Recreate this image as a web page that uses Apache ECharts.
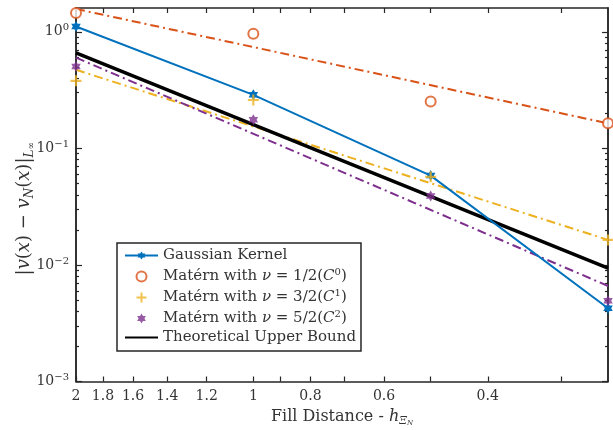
<!DOCTYPE html>
<html><head><meta charset="utf-8">
<script src="https://cdn.jsdelivr.net/npm/echarts@6/dist/echarts.min.js"></script>
<style>html,body{margin:0;padding:0;background:#fff}#c{width:613px;height:430px}</style>
</head><body><div id="c"></div><script>
// ---- data ----
const hValues = [2, 1, 0.5, 0.25];
const gaussian = [1.11, 0.288, 0.0584, 0.00425];
const matern12 = [1.45, 0.96, 0.252, 0.164];
const matern32 = [0.38, 0.26, 0.057, 0.0164];
const matern52 = [0.504, 0.176, 0.039, 0.00494];
const fitH = [2, 0.25];
const fit12 = [1.57, 0.164];
const fit32 = [0.472, 0.0164];
const fit52 = [0.60, 0.0066];
const upperBound = [0.66, 0.0094];
const xTickValues = [2, 1.8, 1.6, 1.4, 1.2, 1, 0.9, 0.8, 0.7, 0.6, 0.5, 0.4, 0.3];
const xLabelValues = [2, 1.8, 1.6, 1.4, 1.2, 1, 0.8, 0.6, 0.4];
const yMajorValues = [0.001, 0.01, 0.1, 1];
const yMinorValues = [0.002, 0.003, 0.004, 0.005, 0.006, 0.007, 0.008, 0.009,
  0.02, 0.03, 0.04, 0.05, 0.06, 0.07, 0.08, 0.09,
  0.2, 0.3, 0.4, 0.5, 0.6, 0.7, 0.8, 0.9];

const BLUE = '#0072BD', ORANGE = '#D95319', YELLOW = '#EDB120', PURPLE = '#7E2F8E';
const AX = '#262626';
const TX = '#333333';
const FONT = 'DejaVu Serif';
const hexagram = 'path://M0,-10 L2.9,-5 L8.66,-5 L5.8,0 L8.66,5 L2.9,5 L0,10 L-2.9,5 L-8.66,5 L-5.8,0 L-8.66,-5 L-2.9,-5 Z';
const plus = 'path://M-1,-5 L1,-5 L1,-1 L5,-1 L5,1 L1,1 L1,5 L-1,5 L-1,1 L-5,1 L-5,-1 L-1,-1 Z';
const dashDot = [9, 4, 2, 4];

function pairs(xs, ys) { return xs.map((x, i) => [x, ys[i]]); }

const richLegend = {
  t: { fontFamily: FONT, fontSize: 15, color: TX, lineHeight: 19 },
  i: { fontFamily: FONT, fontSize: 15, fontStyle: 'italic', color: TX, lineHeight: 19 },
  s: { fontFamily: FONT, fontSize: 10, color: TX, lineHeight: 11, verticalAlign: 'top' }
};
const richX = {
  t: { fontFamily: FONT, fontSize: 16, color: TX, lineHeight: 20 },
  i: { fontFamily: FONT, fontSize: 16, fontStyle: 'italic', color: TX, lineHeight: 20 },
  sub: { fontFamily: FONT, fontSize: 11, fontStyle: 'italic', color: TX, lineHeight: 9, verticalAlign: 'bottom' },
  subsub: { fontFamily: FONT, fontSize: 7, fontStyle: 'italic', color: TX, lineHeight: 5, verticalAlign: 'bottom' }
};
const richY = {
  t: { fontFamily: FONT, fontSize: 18, color: TX, lineHeight: 23 },
  i: { fontFamily: FONT, fontSize: 18, fontStyle: 'italic', color: TX, lineHeight: 23 },
  sub: { fontFamily: FONT, fontSize: 12, fontStyle: 'italic', color: TX, lineHeight: 9, verticalAlign: 'bottom' },
  subsub: { fontFamily: FONT, fontSize: 9, fontStyle: 'italic', color: TX, lineHeight: 14, verticalAlign: 'bottom' }
};

const legendNames = {
  'Gaussian Kernel': '{t|Gaussian Kernel}',
  'm12': '{t|Matérn with }{i|ν}{t| = 1/2(}{i|C}{s|0}{t|)}',
  'm32': '{t|Matérn with }{i|ν}{t| = 3/2(}{i|C}{s|1}{t|)}',
  'm52': '{t|Matérn with }{i|ν}{t| = 5/2(}{i|C}{s|2}{t|)}',
  'Theoretical Upper Bound': '{t|Theoretical Upper Bound}'
};

function yLab(v) {
  const e = Math.round(Math.log10(v));
  return '{b|10}{e|' + (e < 0 ? '\u2212' + (-e) : String(e)) + '}';
}

const yCommon = {
  type: 'log', min: 0.001, max: 1.6, logBase: 10,
  splitLine: { show: false }, minorTick: { show: false },
  axisLine: { show: true, lineStyle: { color: AX, width: 1.5 } }
};

const chart = echarts.init(document.getElementById('c'), null, { renderer: 'canvas' });
chart.setOption({
  animation: false,
  backgroundColor: '#fff',
  grid: { left: 76, right: 5, top: 8, bottom: 48.5, containLabel: false, outerBoundsMode: 'none' },
  xAxis: [
    {
      type: 'log', min: 0.25, max: 2, inverse: true, position: 'bottom',
      splitLine: { show: false },
      axisLine: { show: true, lineStyle: { color: AX, width: 1.5 } },
      axisTick: { show: true, inside: true, length: 5, lineStyle: { color: AX, width: 1.2 }, customValues: xTickValues },
      axisLabel: { show: true, customValues: xLabelValues, margin: 8, fontFamily: FONT, fontSize: 14, color: TX,
        formatter: v => String(v) },
      name: '{t|Fill Distance - }{i|h}{sub|Ξ}{subsub|N}',
      nameLocation: 'middle', nameGap: 22,
      nameTextStyle: { rich: richX }
    },
    {
      type: 'log', min: 0.25, max: 2, inverse: true, position: 'top',
      splitLine: { show: false },
      axisLine: { show: true, lineStyle: { color: AX, width: 1.5 } },
      axisTick: { show: true, inside: true, length: 5, lineStyle: { color: AX, width: 1.2 }, customValues: xTickValues },
      axisLabel: { show: false }
    }
  ],
  yAxis: [
    Object.assign({}, yCommon, {
      position: 'left',
      axisTick: { show: true, inside: true, length: 6, lineStyle: { color: AX, width: 1.2 }, customValues: yMajorValues },
      axisLabel: { show: true, customValues: yMajorValues, margin: 7, formatter: yLab,
        rich: {
          b: { fontFamily: FONT, fontSize: 14, color: TX, lineHeight: 18 },
          e: { fontFamily: FONT, fontSize: 10, color: TX, lineHeight: 10, verticalAlign: 'top' }
        } },
      name: '{t||}{i|v}{t|(}{i|x}{t|) \u2212 }{i|v}{sub|N}{t|(}{i|x}{t|)|}{sub|L}{subsub|∞}',
      nameLocation: 'middle', nameGap: 40, nameRotate: 90, nameMoveOverlap: false,
      nameTextStyle: { rich: richY, padding: [0, 28, 0, 0] }
    }),
    Object.assign({}, yCommon, {
      position: 'left',
      axisTick: { show: true, inside: true, length: 3, lineStyle: { color: AX, width: 1.2 }, customValues: yMinorValues },
      axisLabel: { show: false }
    }),
    Object.assign({}, yCommon, {
      position: 'right',
      axisTick: { show: true, inside: true, length: 6, lineStyle: { color: AX, width: 1.2 }, customValues: yMajorValues },
      axisLabel: { show: false }
    }),
    Object.assign({}, yCommon, {
      position: 'right',
      axisTick: { show: true, inside: true, length: 3, lineStyle: { color: AX, width: 1.2 }, customValues: yMinorValues },
      axisLabel: { show: false }
    })
  ],
  legend: {
    orient: 'vertical', left: 117, top: 243,
    data: ['Gaussian Kernel', 'm12', 'm32', 'm52',
      { name: 'Theoretical Upper Bound', itemStyle: { opacity: 0 } }],
    itemWidth: 33, itemHeight: 10, itemGap: 4,
    padding: [5, 5, 6, 7],
    backgroundColor: '#fff', borderColor: AX, borderWidth: 1.5, borderRadius: 0,
    formatter: n => legendNames[n],
    textStyle: { rich: richLegend, padding: [0, 0, 0, 0] },
    selectedMode: false
  },
  series: [
    { name: 'fit12', type: 'line', data: pairs(fitH, fit12), symbol: 'none', color: ORANGE,
      lineStyle: { color: ORANGE, width: 2, type: dashDot }, z: 2 },
    { name: 'fit32', type: 'line', data: pairs(fitH, fit32), symbol: 'none', color: YELLOW,
      lineStyle: { color: YELLOW, width: 2, type: dashDot }, z: 2 },
    { name: 'fit52', type: 'line', data: pairs(fitH, fit52), symbol: 'none', color: PURPLE,
      lineStyle: { color: PURPLE, width: 2, type: dashDot }, z: 2 },
    { name: 'Theoretical Upper Bound', type: 'line', data: pairs(fitH, upperBound), symbol: 'none', color: '#000',
      lineStyle: { color: '#000', width: 3.5 }, z: 3 },
    { name: 'Gaussian Kernel', type: 'line', data: pairs(hValues, gaussian), color: BLUE,
      symbol: hexagram, symbolSize: 11, showSymbol: true, symbolKeepAspect: true,
      itemStyle: { color: BLUE }, lineStyle: { color: BLUE, width: 2 }, z: 4 },
    { name: 'm12', type: 'scatter', data: pairs(hValues, matern12), color: ORANGE,
      symbol: 'emptyCircle', symbolSize: 10, symbolKeepAspect: true,
      itemStyle: { color: ORANGE, borderColor: ORANGE, borderWidth: 2.2 }, z: 5 },
    { name: 'm32', type: 'scatter', data: pairs(hValues, matern32), color: YELLOW,
      symbol: plus, symbolSize: 11, symbolKeepAspect: true,
      itemStyle: { color: YELLOW }, z: 5 },
    { name: 'm52', type: 'scatter', data: pairs(hValues, matern52), color: PURPLE,
      symbol: hexagram, symbolSize: 11, symbolKeepAspect: true,
      itemStyle: { color: PURPLE }, z: 5 }
  ]
});
</script></body></html>
